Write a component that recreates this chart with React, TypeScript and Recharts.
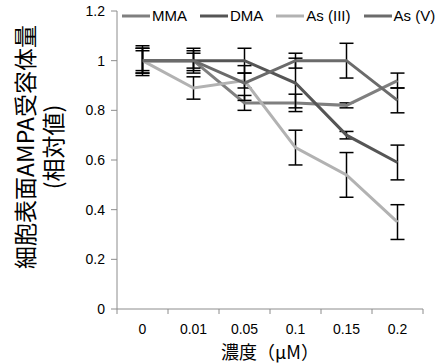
import React from 'react';
import { LineChart, Line, XAxis, YAxis, ErrorBar } from 'recharts';

const categories = ['0', '0.01', '0.05', '0.1', '0.15', '0.2'];
const yTicks = [0, 0.2, 0.4, 0.6, 0.8, 1, 1.2];

const mma = [1, 1, 0.83, 0.83, 0.82, 0.92];
const mmaErr = [0.05, 0.04, 0.03, 0.035, 0.01, 0.03];
const dma = [1, 1, 1, 0.91, 0.7, 0.59];
const dmaErr = [0.06, 0.03, 0.05, 0.1, 0.015, 0.07];
const as3 = [1, 0.89, 0.92, 0.65, 0.54, 0.35];
const as3Err = [0.04, 0.045, 0.03, 0.07, 0.09, 0.07];
const as5 = [1, 1, 0.91, 1, 1, 0.84];
const as5Err = [0.05, 0.05, 0.07, 0.03, 0.07, 0.05];

const series = [
  { key: 'mma', name: 'MMA', color: '#7f7f7f' },
  { key: 'dma', name: 'DMA', color: '#555555' },
  { key: 'as3', name: 'As (III)', color: '#b2b2b2' },
  { key: 'as5', name: 'As (V)', color: '#6b6b6b' },
];

const data = categories.map((c, i) => ({
  conc: c,
  mma: mma[i],
  mmaErr: mmaErr[i],
  dma: dma[i],
  dmaErr: dmaErr[i],
  as3: as3[i],
  as3Err: as3Err[i],
  as5: as5[i],
  as5Err: as5Err[i],
}));

const W = 447;
const H = 363;
const margin = { top: 11, right: 24, bottom: 24, left: 57 };
const yAxisWidth = 60;
const plotWidth = W - margin.left - margin.right - yAxisWidth;
const band = plotWidth / categories.length;
const axisColor = '#8c8c8c';
const font = 'Liberation Sans, Arial, sans-serif';
const cjk = '"Noto Sans CJK JP", sans-serif';

// category labels sit between tick marks, like Excel
function XTick(props: any) {
  const { x, y, payload, index } = props;
  return (
    <g>
      <line x1={x - band / 2} x2={x - band / 2} y1={y} y2={y + 5} stroke={axisColor} />
      {index === categories.length - 1 && (
        <line x1={x + band / 2} x2={x + band / 2} y1={y} y2={y + 5} stroke={axisColor} />
      )}
      <text x={x} y={y + 25} textAnchor="middle" fontSize={14} fontFamily={font} fill="#000">
        {payload.value}
      </text>
    </g>
  );
}

function YLabel(props: any) {
  const { viewBox } = props;
  const cy = viewBox.y + viewBox.height / 2 - 13;
  return (
    <g>
      <text
        transform={`translate(34, ${cy}) rotate(-90)`}
        textAnchor="middle"
        fontSize={23}
        fontFamily={cjk}
        fill="#000"
      >
        細胞表面AMPA受容体量
      </text>
      <text
        transform={`translate(62, ${cy}) rotate(-90)`}
        textAnchor="middle"
        fontSize={23}
        fontFamily={cjk}
        fill="#000"
      >
        (相対値)
      </text>
    </g>
  );
}

function LegendRow() {
  return (
    <div
      style={{
        position: 'absolute',
        top: 7,
        left: 122,
        display: 'flex',
        fontFamily: font,
        fontSize: 15,
        lineHeight: '18px',
        whiteSpace: 'nowrap',
      }}
    >
      {series.map((s) => (
        <div key={s.key} style={{ display: 'flex', alignItems: 'center', marginRight: 13 }}>
          <svg width={30} height={18}>
            <line x1={0} x2={28} y1={9} y2={9} stroke={s.color} strokeWidth={3} />
          </svg>
          <span>{s.name}</span>
        </div>
      ))}
    </div>
  );
}

export default function App() {
  return (
    <div style={{ position: 'absolute', left: 0, top: 0, width: W, height: H, background: '#fff' }}>
      <LineChart width={W} height={H} data={data} margin={margin}>
        <XAxis
          dataKey="conc"
          stroke={axisColor}
          tickLine={false}
          tickSize={0}
          tickMargin={0}
          height={30}
          padding={{ left: band / 2, right: band / 2 }}
          tick={<XTick />}
          interval={0}
          label={{
            value: '濃度（μM）',
            position: 'insideBottom',
            offset: -20,
            fontSize: 18,
            fontFamily: cjk,
            fill: '#000',
          }}
        />
        <YAxis
          domain={[0, 1.2]}
          ticks={yTicks}
          width={yAxisWidth}
          stroke={axisColor}
          tickSize={6}
          tickMargin={6}
          tick={{ fontSize: 14, fontFamily: font, fill: '#000' }}
          label={<YLabel />}
        />
        {series.map((s) => (
          <Line
            key={s.key}
            dataKey={s.key}
            name={s.name}
            stroke={s.color}
            strokeWidth={3}
            dot={false}
            activeDot={false}
            isAnimationActive={false}
          >
            <ErrorBar dataKey={`${s.key}Err`} width={7} stroke="#000" strokeWidth={1.5} />
          </Line>
        ))}
      </LineChart>
      <LegendRow />
    </div>
  );
}
